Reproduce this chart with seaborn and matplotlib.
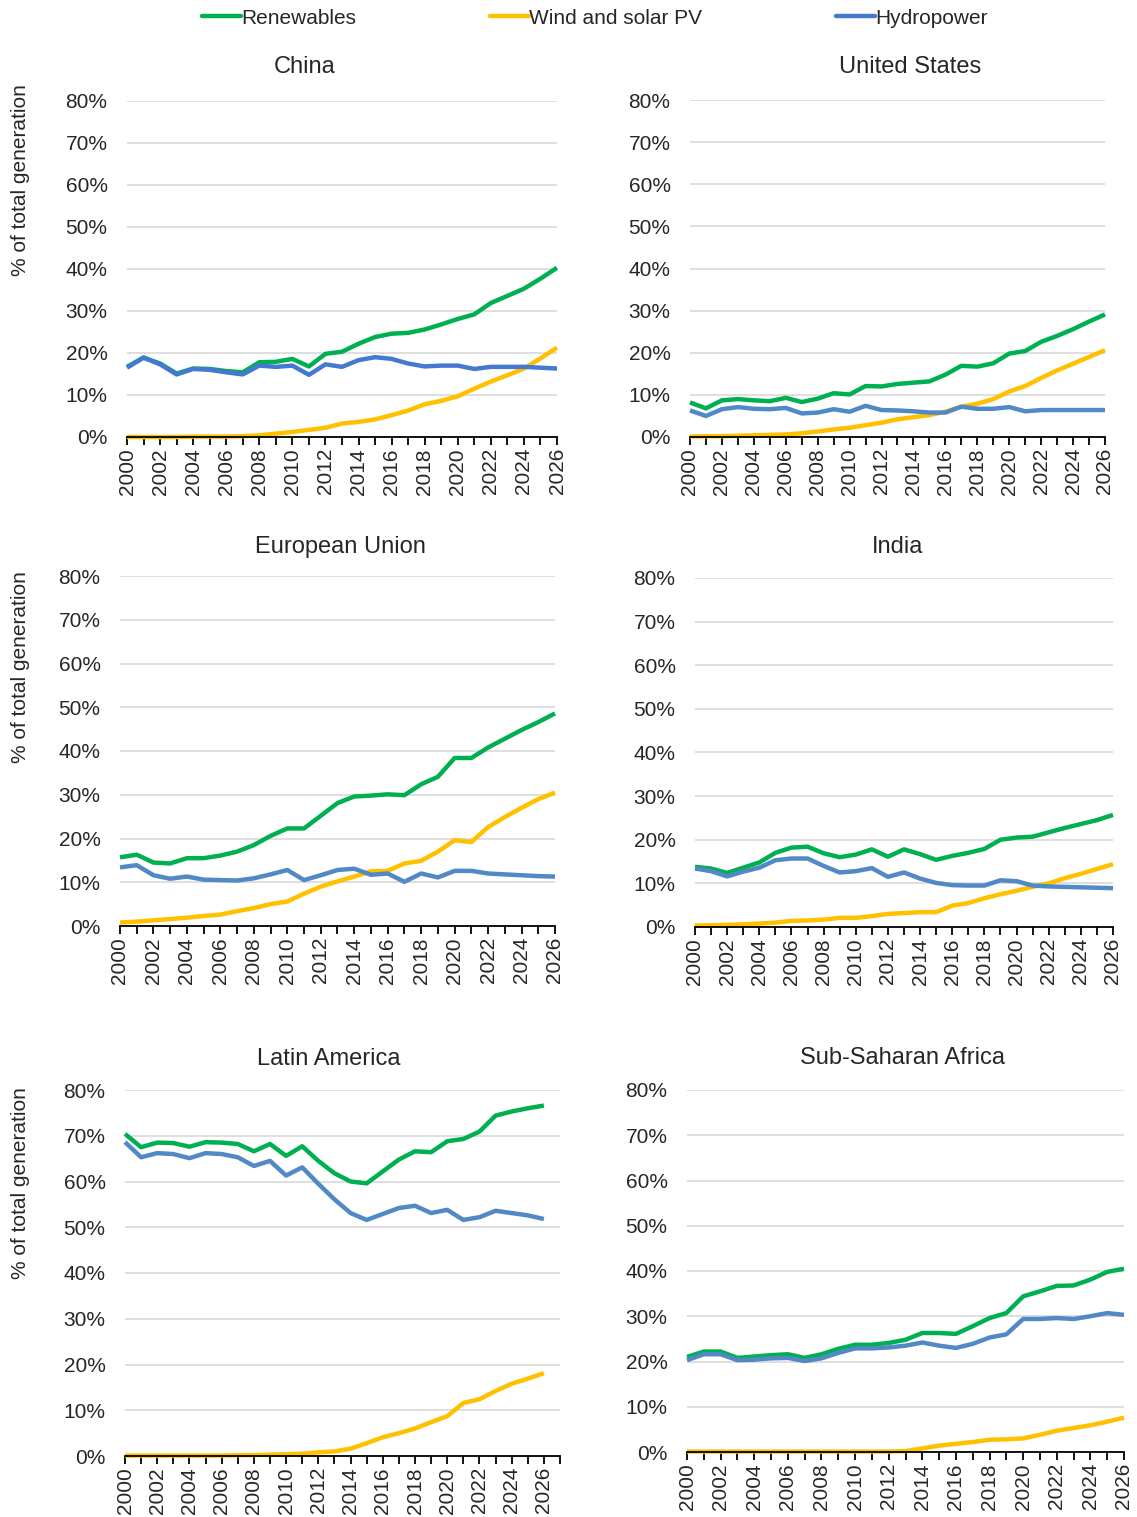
import numpy as np
import pandas as pd
import matplotlib
matplotlib.use("Agg")
import matplotlib.pyplot as plt
from matplotlib.lines import Line2D
import seaborn as sns

years = list(range(2000, 2027))
series_names = ["Renewables", "Wind and solar PV", "Hydropower"]

china_renew = [16.7, 18.9, 17.5, 15.1, 16.3, 16.2, 15.7, 15.4, 17.8, 17.9, 18.6, 16.8, 19.8, 20.3,
               22.2, 23.8, 24.6, 24.8, 25.6, 26.8, 28.1, 29.2, 31.9, 33.6, 35.3, 37.7, 40.3]
china_wind = [0.0, 0.0, 0.0, 0.0, 0.1, 0.1, 0.1, 0.2, 0.4, 0.8, 1.2, 1.7, 2.2, 3.2,
              3.6, 4.2, 5.2, 6.3, 7.8, 8.6, 9.7, 11.5, 13.2, 14.7, 16.3, 18.7, 21.3]
china_hydro = [16.5, 18.9, 17.3, 14.9, 16.2, 16.0, 15.4, 14.9, 17.0, 16.7, 17.0, 14.8, 17.3, 16.7,
               18.3, 19.0, 18.6, 17.5, 16.8, 17.0, 17.0, 16.2, 16.7, 16.7, 16.7, 16.5, 16.3]

us_renew = [8.2, 6.8, 8.7, 9.0, 8.7, 8.5, 9.3, 8.3, 9.1, 10.4, 10.1, 12.1, 12.0, 12.6,
            12.9, 13.2, 14.8, 16.9, 16.7, 17.5, 19.8, 20.4, 22.6, 24.0, 25.6, 27.4, 29.1]
us_wind = [0.1, 0.2, 0.2, 0.3, 0.4, 0.5, 0.6, 0.9, 1.3, 1.8, 2.2, 2.8, 3.4, 4.2,
           4.7, 5.2, 6.0, 7.2, 7.9, 9.0, 10.8, 12.1, 14.0, 15.8, 17.4, 19.0, 20.6]
us_hydro = [6.3, 5.0, 6.6, 7.1, 6.7, 6.6, 6.9, 5.6, 5.8, 6.6, 6.0, 7.4, 6.4, 6.3,
            6.1, 5.8, 5.8, 7.2, 6.7, 6.7, 7.1, 6.1, 6.4, 6.4, 6.4, 6.4, 6.4]

eu_renew = [15.7, 16.3, 14.5, 14.3, 15.5, 15.5, 16.1, 17.0, 18.5, 20.6, 22.3, 22.3, 25.2, 28.1,
            29.6, 29.8, 30.1, 29.9, 32.4, 34.1, 38.4, 38.4, 40.8, 42.8, 44.8, 46.6, 48.6]
eu_wind = [0.8, 1.0, 1.3, 1.6, 1.9, 2.3, 2.6, 3.4, 4.1, 5.0, 5.6, 7.4, 9.0, 10.2,
           11.3, 12.5, 12.6, 14.3, 14.9, 17.0, 19.6, 19.2, 22.6, 24.9, 27.0, 29.0, 30.5]
eu_hydro = [13.4, 13.9, 11.6, 10.8, 11.3, 10.6, 10.5, 10.4, 10.9, 11.8, 12.8, 10.5, 11.6, 12.8,
            13.1, 11.7, 12.0, 10.1, 12.0, 11.1, 12.6, 12.6, 12.0, 11.8, 11.6, 11.4, 11.3]

india_renew = [13.8, 13.4, 12.4, 13.6, 14.8, 17.0, 18.2, 18.4, 16.9, 16.0, 16.6, 17.8, 16.1, 17.8,
               16.7, 15.4, 16.3, 17.0, 17.9, 20.0, 20.5, 20.7, 21.7, 22.7, 23.6, 24.5, 25.7]
india_wind = [0.3, 0.4, 0.5, 0.6, 0.8, 1.0, 1.4, 1.5, 1.7, 2.1, 2.1, 2.5, 3.0, 3.2,
              3.4, 3.4, 4.9, 5.5, 6.6, 7.5, 8.3, 9.2, 10.0, 11.2, 12.2, 13.3, 14.4]
india_hydro = [13.4, 12.8, 11.6, 12.7, 13.6, 15.3, 15.7, 15.7, 14.0, 12.5, 12.8, 13.5, 11.5, 12.5,
               11.1, 10.1, 9.6, 9.5, 9.5, 10.7, 10.5, 9.5, 9.3, 9.2, 9.1, 9.0, 8.9]

latam_renew = [70.4, 67.5, 68.5, 68.4, 67.6, 68.6, 68.5, 68.2, 66.6, 68.2, 65.6, 67.7, 64.5, 61.8,
               60.0, 59.6, 62.2, 64.8, 66.6, 66.4, 68.8, 69.3, 70.9, 74.4, 75.3, 76.0, 76.6]
latam_wind = [0.1, 0.1, 0.1, 0.1, 0.1, 0.1, 0.1, 0.2, 0.2, 0.3, 0.4, 0.5, 0.8, 1.0,
              1.6, 2.8, 4.1, 5.0, 6.0, 7.4, 8.7, 11.6, 12.4, 14.2, 15.8, 16.9, 18.1]
latam_hydro = [68.6, 65.3, 66.2, 66.0, 65.1, 66.2, 66.0, 65.3, 63.4, 64.5, 61.3, 63.1, 59.5, 56.1,
               53.1, 51.6, 52.9, 54.2, 54.7, 53.1, 53.8, 51.6, 52.2, 53.6, 53.1, 52.6, 51.8]

ssa_renew = [21.0, 22.2, 22.2, 20.8, 21.1, 21.4, 21.6, 20.8, 21.6, 22.8, 23.7, 23.7, 24.1, 24.8,
             26.3, 26.3, 26.1, 27.8, 29.6, 30.7, 34.4, 35.5, 36.7, 36.8, 38.1, 39.8, 40.5]
ssa_wind = [0.1, 0.1, 0.1, 0.1, 0.1, 0.1, 0.1, 0.1, 0.1, 0.1, 0.1, 0.1, 0.1, 0.2,
            0.8, 1.4, 1.8, 2.2, 2.7, 2.8, 3.0, 3.8, 4.7, 5.3, 5.9, 6.7, 7.6]
ssa_hydro = [20.3, 21.6, 21.6, 20.3, 20.4, 20.7, 20.8, 20.1, 20.7, 21.9, 22.9, 22.9, 23.1, 23.5,
             24.2, 23.5, 23.0, 23.9, 25.3, 26.0, 29.4, 29.4, 29.6, 29.4, 30.0, 30.7, 30.3]

green = "#00B050"
yellow = "#FFC000"
blue_china = "#4478D2"
blue_other = "#5089C6"

sns.set_theme(style="white")
plt.rcParams["font.family"] = ["Liberation Sans", "DejaVu Sans"]

W, H = 1137, 1517
fig = plt.figure(figsize=(W / 100, H / 100), dpi=100)

# (title, data, blue, axes box in px [left, right, bottom(0%), top(80%)], title xy px, x max)
panels = [
    ("China", (china_renew, china_wind, china_hydro), blue_china, (127, 557, 437, 101), (305, 67), 2026),
    ("United States", (us_renew, us_wind, us_hydro), blue_other, (690, 1105, 437, 100), (910, 67), 2026),
    ("European Union", (eu_renew, eu_wind, eu_hydro), blue_other, (120, 555, 926, 576), (340, 547), 2026),
    ("India", (india_renew, india_wind, india_hydro), blue_other, (695, 1113, 927, 578), (898, 547), 2026),
    ("Latin America", (latam_renew, latam_wind, latam_hydro), blue_other, (125, 560, 1456, 1090), (329, 1059), 2027),
    ("Sub-Saharan Africa", (ssa_renew, ssa_wind, ssa_hydro), blue_other, (687, 1124, 1452, 1090), (903, 1058), 2026),
]

for title, vals, blue, box, tpos, xmax in panels:
    l, r, b, t = box
    ax = fig.add_axes([l / W, 1 - b / H, (r - l) / W, (b - t) / H])
    df = pd.DataFrame({
        "year": years * 3,
        "value": list(vals[0]) + list(vals[1]) + list(vals[2]),
        "series": sum([[n] * len(years) for n in series_names], []),
    })
    pal = {"Renewables": green, "Wind and solar PV": yellow, "Hydropower": blue}
    sns.lineplot(data=df, x="year", y="value", hue="series", hue_order=series_names,
                 palette=pal, linewidth=3.2, ax=ax, legend=False, clip_on=False)
    for ln in ax.lines:
        ln.set_solid_capstyle("butt")
    ax.set_xlim(2000, xmax)
    ax.set_ylim(0, 80)
    ax.set_yticks(range(0, 81, 10))
    ax.set_yticklabels([f"{v}%" for v in range(0, 81, 10)])
    ticks = list(range(2000, xmax + 1))
    ax.set_xticks(ticks)
    ax.set_xticklabels([str(y) if (y % 2 == 0 and y <= 2026) else "" for y in ticks], rotation=90)
    ax.grid(axis="y", color="#D9D9D9", linewidth=1.2)
    ax.set_axisbelow(True)
    for s in ["top", "right", "left"]:
        ax.spines[s].set_visible(False)
    ax.spines["bottom"].set_color("black")
    ax.spines["bottom"].set_linewidth(1.3)
    ax.tick_params(axis="x", bottom=True, length=6, width=1.3, color="black",
                   direction="out", labelsize=15, pad=2)
    ax.tick_params(axis="y", left=False, labelsize=15, pad=8)
    ax.set_xlabel("")
    ax.set_ylabel("")
    fig.text(tpos[0] / W, 1 - tpos[1] / H, title, ha="center", va="center", fontsize=17)

for yc in (180, 667, 1183):
    fig.text(20 / W, 1 - yc / H, "% of total generation", rotation=90,
             ha="center", va="center", fontsize=15)

handles = [Line2D([], [], color=c, linewidth=3.2) for c in (green, yellow, blue_china)]
fig.legend(handles, series_names, loc="center", bbox_to_anchor=(0.523, 1 - 18 / H),
           ncol=3, frameon=False, fontsize=15, handlelength=1.9, handletextpad=0.0,
           columnspacing=6.4)

fig.savefig("out.png", dpi=100)
